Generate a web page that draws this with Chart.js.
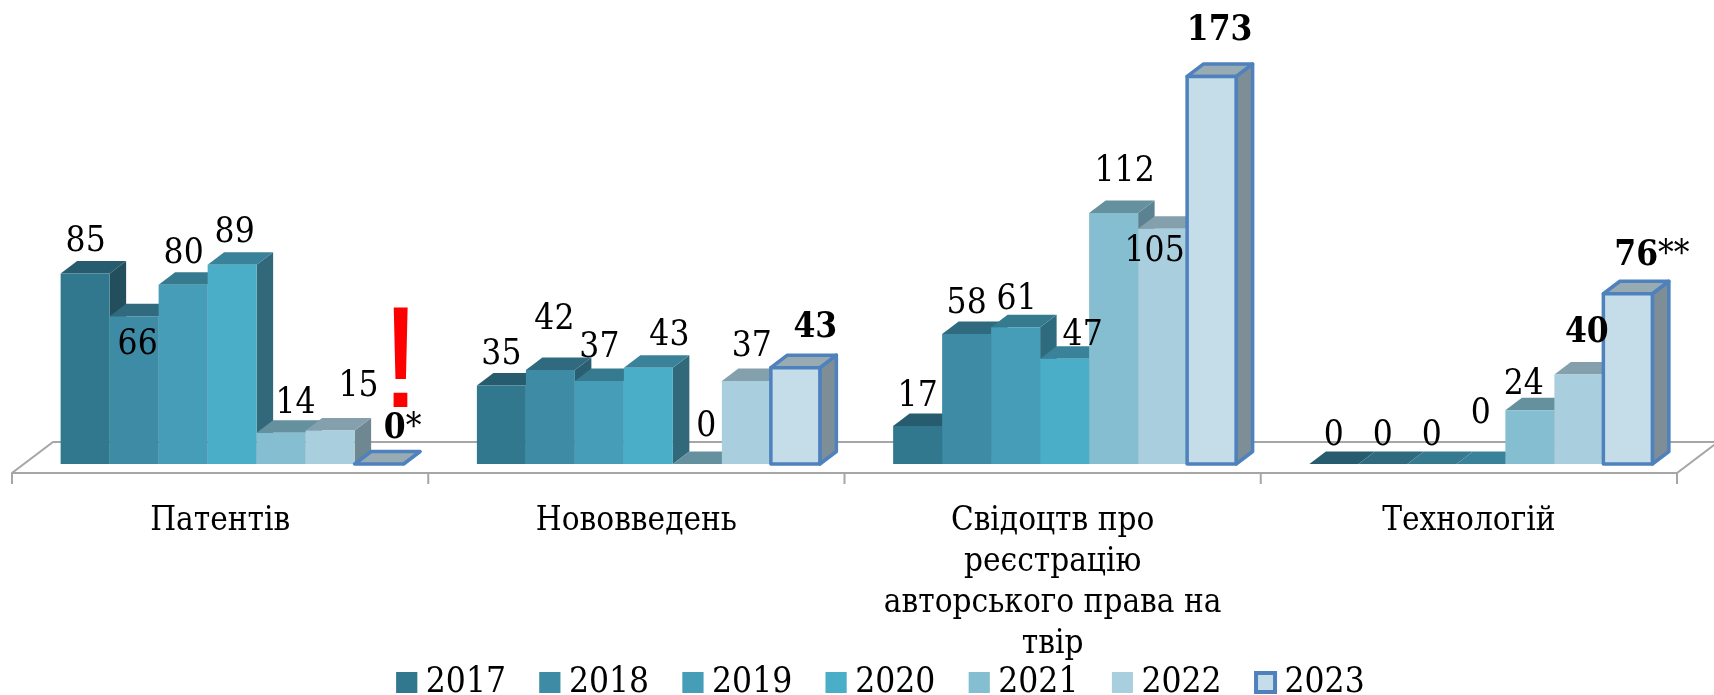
<!DOCTYPE html>
<html>
<head>
<meta charset="utf-8">
<style>html,body{margin:0;padding:0;background:#fff}canvas{display:block}</style>
<script src="https://cdn.jsdelivr.net/npm/chart.js@4"></script>
</head>
<body>
<canvas id="c" width="1714" height="695"></canvas>
<script>
const categories = ["Патентів", "Нововведень", ["Свідоцтв про", "реєстрацію", "авторського права на", "твір"], "Технологій"];
const years = ["2017", "2018", "2019", "2020", "2021", "2022", "2023"];
const v2017 = [85, 35, 17, 0];
const v2018 = [66, 42, 58, 0];
const v2019 = [80, 37, 61, 0];
const v2020 = [89, 43, 47, 0];
const v2021 = [14, 0, 112, 24];
const v2022 = [15, 37, 105, 40];
const v2023 = [0, 43, 173, 76];
const seriesValues = [v2017, v2018, v2019, v2020, v2021, v2022, v2023];

const frontColors = ["#31788f", "#3d8ba5", "#469db7", "#4baec9", "#85bdd1", "#a9cfdf", "#c5dde9"];
const topColors = ["#265c6d", "#2f6a7e", "#367a8f", "#3a8299", "#65919f", "#83a0ac", "#98abb2"];
const sideColors = ["#234f5c", "#2a5f71", "#2f6b7e", "#31697b", "#5b8290", "#6f8791", "#7e8e96"];
const accentBorder = "#4f81bd";

const labelNudges = [
  [[0.5,-32],[0,-31],[0,-29],[0,-28]],
  [[3.5,29],[4,-50],[0,-30],[0,-28]],
  [[0.5,-31],[0,-33],[1,-27],[0,-28]],
  [[2.5,-32],[21,-32],[18,-23],[0,-50]],
  [[14.5,-29],[9,-37],[11,-41],[-6,-25]],
  [[28.5,-43],[5.5,-34],[-8,23],[8,-41]],
  [[23.5,-35],[20,-40],[8,-46],[24,-38]]
];
const labelSuffix = { "6:0": "*", "6:3": "**" };
const boldLabels = { "6:0":1, "6:1":1, "6:2":1, "6:3":1, "5:3":1 };

const SERIF = '"DejaVu Serif Condensed", "DejaVu Serif", serif';
const DEPTH_X = 16.5, DEPTH_Y = 12.5;

function poly(ctx, pts, fill, stroke) {
  ctx.beginPath();
  pts.forEach((p, i) => i ? ctx.lineTo(p[0], p[1]) : ctx.moveTo(p[0], p[1]));
  ctx.closePath();
  ctx.fillStyle = fill; ctx.fill();
  if (stroke) { ctx.lineWidth = 3.5; ctx.lineJoin = "round"; ctx.strokeStyle = stroke; ctx.stroke(); }
}

const scene = {
  id: "scene",
  afterLayout(chart) {
    chart.legend.left += 24; chart.legend.right += 24;
    chart.scales.x.bottom = chart.height;
  },
  beforeDatasetDraw() { return false; },
  beforeDatasetsDraw(chart) {
    const ctx = chart.ctx, a = chart.chartArea;
    const fy = a.bottom + 9, fx0 = a.left - 12, fx1 = a.right - 12;
    const step = (fx1 - fx0) / categories.length;
    ctx.save();
    ctx.strokeStyle = "#a6a6a6"; ctx.lineWidth = 2;
    ctx.beginPath();
    ctx.moveTo(fx0, fy + 11); ctx.lineTo(fx0, fy); ctx.lineTo(fx0 + 41, fy - 31); ctx.lineTo(fx1 + 41, fy - 31);
    ctx.moveTo(fx0, fy); ctx.lineTo(fx1, fy); ctx.lineTo(fx1 + 41, fy - 31);
    for (let i = 1; i <= categories.length; i++) { ctx.moveTo(fx0 + step * i, fy); ctx.lineTo(fx0 + step * i, fy + 11); }
    ctx.stroke();
    seriesValues.forEach((_, i) => {
      const meta = chart.getDatasetMeta(i);
      const stroke = i === 6 ? accentBorder : null;
      meta.data.forEach(bar => {
        const l = bar.x - bar.width / 2, r = bar.x + bar.width / 2, t = bar.y, b = bar.base;
        if (b - t > 0.5) {
          poly(ctx, [[r, t], [r + DEPTH_X, t - DEPTH_Y], [r + DEPTH_X, b - DEPTH_Y], [r, b]], sideColors[i], stroke);
        }
        poly(ctx, [[l, t], [r, t], [r + DEPTH_X, t - DEPTH_Y], [l + DEPTH_X, t - DEPTH_Y]], topColors[i], stroke);
      });
      meta.controller.draw();
      if (stroke) {
        meta.data.forEach(bar => {
          if (bar.base - bar.y > 0.5) {
            ctx.strokeStyle = stroke; ctx.lineWidth = 3.5; ctx.lineJoin = "round";
            ctx.strokeRect(bar.x - bar.width / 2, bar.y, bar.width, bar.base - bar.y);
          }
        });
      }
    });
    ctx.restore();
  },
  afterDraw(chart) {
    const ctx = chart.ctx;
    ctx.save();
    ctx.textBaseline = "middle"; ctx.fillStyle = "#000";
    seriesValues.forEach((vals, i) => {
      const meta = chart.getDatasetMeta(i);
      vals.forEach((v, j) => {
        const bar = meta.data[j], key = i + ":" + j, n = labelNudges[i][j];
        const main = String(v), suf = labelSuffix[key] || "";
        const mf = (boldLabels[key] ? "bold " : "") + "35px " + SERIF, sf = "35px " + SERIF;
        ctx.font = mf; const mw = ctx.measureText(main).width;
        ctx.font = sf; const sw = suf ? ctx.measureText(suf).width : 0;
        const x = bar.x + n[0] - (mw + sw) / 2, y = bar.y + n[1];
        ctx.textAlign = "left";
        ctx.font = mf; ctx.fillText(main, x, y);
        if (suf) { ctx.font = sf; ctx.fillText(suf, x + mw, y); }
      });
    });
    // red exclamation mark above the zero of 2023 patents
    const zeroBar = chart.getDatasetMeta(6).data[0];
    ctx.fillStyle = "#ff0000"; ctx.textAlign = "center"; ctx.textBaseline = "alphabetic";
    ctx.font = '145px "Liberation Sans", sans-serif';
    ctx.fillText("!", zeroBar.x + 21.5, zeroBar.y - 57);
    // widen legend swatches
    const lg = chart.legend;
    lg.legendHitBoxes.forEach((h, i) => {
      const x = h.left, y = h.top + (h.height - 21) / 2;
      ctx.fillStyle = frontColors[i];
      ctx.fillRect(x, y, 21, 21);
      if (i === 6) { ctx.strokeStyle = accentBorder; ctx.lineWidth = 4; ctx.strokeRect(x + 1, y + 1, 19, 19); }
    });
    ctx.restore();
  }
};

new Chart(document.getElementById("c"), {
  type: "bar",
  data: {
    labels: categories,
    datasets: years.map((y, i) => ({
      label: y,
      data: seriesValues[i],
      backgroundColor: frontColors[i],
      borderColor: frontColors[i],
      borderWidth: 0,
      borderSkipped: false,
      barPercentage: 1,
      categoryPercentage: 0.824
    }))
  },
  options: {
    responsive: false,
    animation: false,
    devicePixelRatio: 1,
    layout: { padding: { top: 16, left: 24, right: 25, bottom: -15 } },
    plugins: {
      tooltip: { enabled: false },
      legend: {
        position: "bottom",
        labels: {
          boxWidth: 12, boxHeight: 21, padding: 33.5, color: "#000",
          font: { family: SERIF, size: 35 }
        }
      }
    },
    scales: {
      y: { display: false, min: 0, max: 200 },
      x: {
        grid: { display: false },
        border: { display: false },
        afterFit(s) { s.height = 167.5; },
        ticks: {
          autoSkip: false, maxRotation: 0, minRotation: 0,
          color: "#000", padding: 28.5, labelOffset: -12,
          font: { family: SERIF, size: 33, lineHeight: 1.242 }
        }
      }
    }
  },
  plugins: [scene]
});
</script>
</body>
</html>
